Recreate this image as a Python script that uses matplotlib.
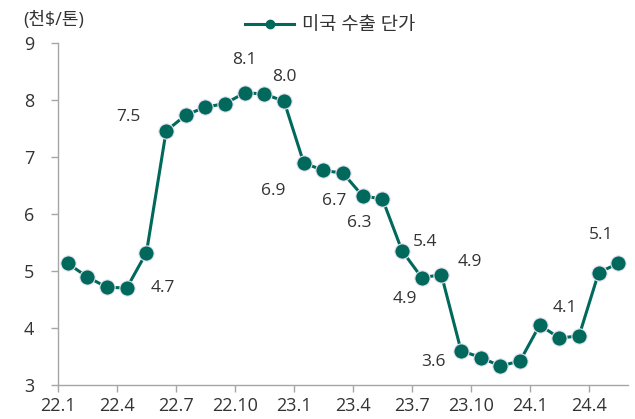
import matplotlib
matplotlib.use("Agg")
import matplotlib.pyplot as plt
from matplotlib.lines import Line2D

plt.rcParams['font.family'] = ['Open Sans', 'Noto Sans CJK KR', 'DejaVu Sans']

months = ['22.1', '22.2', '22.3', '22.4', '22.5', '22.6', '22.7', '22.8', '22.9', '22.10',
          '22.11', '22.12', '23.1', '23.2', '23.3', '23.4', '23.5', '23.6', '23.7', '23.8',
          '23.9', '23.10', '23.11', '23.12', '24.1', '24.2', '24.3', '24.4', '24.5']
price = [5.14, 4.90, 4.72, 4.71, 5.33, 7.46, 7.74, 7.88, 7.94, 8.13,
         8.11, 7.98, 6.90, 6.77, 6.72, 6.32, 6.27, 5.36, 4.89, 4.94,
         3.61, 3.49, 3.34, 3.43, 4.06, 3.83, 3.87, 4.98, 5.14]
tick_labels = ['22.1', '22.4', '22.7', '22.10', '23.1', '23.4', '23.7', '23.10', '24.1', '24.4']

# labelled points: index -> offset of the text in pixels (dx, dy)
labels = {3: (36, 0), 5: (-38, 14), 9: (0, 33), 11: (0, 24), 12: (-31, -28),
          14: (-9, -28), 15: (-4, -27), 17: (23, 9), 18: (-17, -21), 19: (28, 13),
          20: (-28, -11), 24: (25, 17), 28: (-17, 28)}

teal = '#00695C'
txt = '#333333'

fig = plt.figure(figsize=(6.35, 4.19), dpi=100)
ax = fig.add_axes([0.0913, 0.080, 0.898, 0.817])

x = list(range(len(price)))
ax.plot(x, price, color=teal, lw=2.2, marker='o', ms=11,
        mfc=teal, mec='#e8e4f4', mew=0.8)

for i, (dx, dy) in labels.items():
    ax.annotate(f'{price[i]:.1f}', (i, price[i]), xytext=(dx * 0.72, dy * 0.72),
                textcoords='offset points', ha='center', va='center',
                fontsize=12.5, color=txt)

ax.set_xlim(-0.5, len(price) - 0.5)
ax.set_ylim(3, 9)
ax.set_yticks([3, 4, 5, 6, 7, 8, 9])
ax.set_xticks([months.index(t) - 0.5 for t in tick_labels])
ax.set_xticklabels(tick_labels)

for s in ['top', 'right']:
    ax.spines[s].set_visible(False)
for s in ['left', 'bottom']:
    ax.spines[s].set_color('#a6a6a6')
    ax.spines[s].set_linewidth(1.0)
ax.tick_params(axis='y', direction='out', length=5, width=1, color='#a6a6a6',
               pad=12, labelsize=13, labelcolor=txt)
ax.tick_params(axis='x', direction='out', length=5, width=1, color='#a6a6a6',
               pad=3, labelsize=13, labelcolor=txt)

fig.text(0.085, 0.952, '(천$/톤)', ha='center', va='center', fontsize=13, color=txt)

handle = Line2D([], [], color=teal, lw=2.2, marker='o', ms=6, mfc=teal, mec=teal)
fig.legend([handle], ['미국 수출 단가'], loc='center', bbox_to_anchor=(0.52, 0.94),
           frameon=False, fontsize=13.5, handlelength=2.6, handletextpad=0.4,
           labelcolor=txt)

fig.savefig('out.png', dpi=100)
